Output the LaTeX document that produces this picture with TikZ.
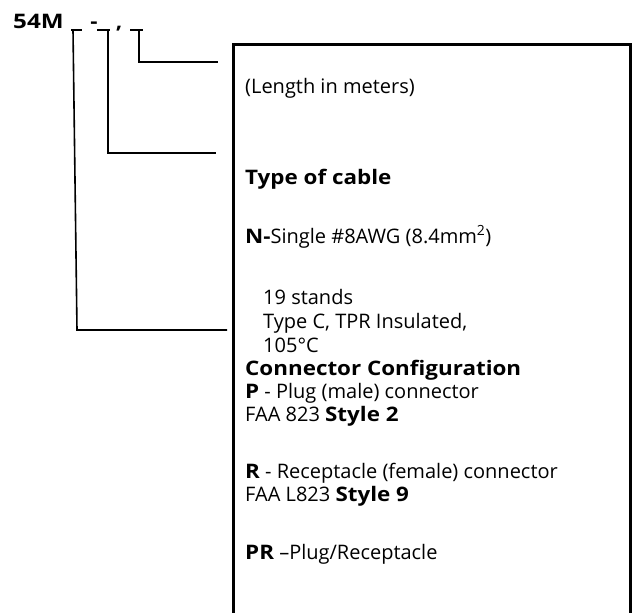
\documentclass[tikz,border=0pt]{standalone}
\usepackage{fontspec}
\setmainfont{Open Sans}[BoldFeatures={FakeStretch=1.12}]
\begin{document}
\begin{tikzpicture}[x=1pt,y=-1pt,
  txt/.style={anchor=west,inner sep=0pt,font=\fontsize{20}{24}\selectfont},
  btxt/.style={txt,font=\fontsize{20}{24}\selectfont\bfseries},
  head/.style={anchor=base,inner sep=0pt,font=\fontsize{20}{24}\selectfont\bfseries},
  conn/.style={line width=1.6pt},
  frame/.style={line width=3pt}]
\useasboundingbox (0,0) rectangle (640,613);
% header
\node[head,anchor=base west,transform shape,xscale=1.08] (title) at (13,28) {54M};
\node[head] (dash) at (94,28) {-};
\node[head] (comma) at (119,28) {,};
% underscores / connector start points
\coordinate (u1a) at (71,30); \coordinate (u1b) at (82,30);
\coordinate (u2a) at (97,30); \coordinate (u2b) at (110,30);
\coordinate (u3a) at (130,30); \coordinate (u3b) at (143,30);
\coordinate (v1) at (73,30); \coordinate (c1) at (77,330); \coordinate (e1) at (227,330);
\coordinate (v2) at (108,30); \coordinate (c2) at (108,153); \coordinate (e2) at (216,153);
\coordinate (v3) at (139,30); \coordinate (c3) at (139,62); \coordinate (e3) at (218,62);
\draw[conn] (u1a) -- (u1b);
\draw[conn] (u2a) -- (u2b);
\draw[conn] (u3a) -- (u3b);
\draw[conn] (v1) -- (c1) -- (e1);
\draw[conn] (v2) -- (c2) -- (e2);
\draw[conn] (v3) -- (c3) -- (e3);
% box
\draw[frame] (233,620) -- (233,44) -- (630,44) -- (630,620);
% text
\node[txt] (len) at (245,89) {\strut(Length in meters)};
\node[btxt] (type) at (245,180) {\strut Type of cable};
\node[txt] (n) at (245,238) {\strut\textbf{N-}Single \#8AWG (8.4mm\textsuperscript{2})};
\node[txt] (s19) at (263,300) {\strut 19 stands};
\node[txt] (tc) at (263,324) {\strut Type C, TPR Insulated,};
\node[txt] (deg) at (263,348) {\strut 105°C};
\node[btxt] (cc) at (245,371) {\strut Connector Configuration};
\node[txt] (p) at (245,394) {\strut\textbf{P} - Plug (male) connector};
\node[txt] (faa1) at (245,417) {\strut FAA 823 \textbf{Style 2}};
\node[txt] (r) at (245,474) {\strut\textbf{R} - Receptacle (female) connector};
\node[txt] (faa2) at (245,497) {\strut FAA L823 \textbf{Style 9}};
\node[txt] (pr) at (245,555) {\strut\textbf{PR} –Plug/Receptacle};
\end{tikzpicture}
\end{document}
